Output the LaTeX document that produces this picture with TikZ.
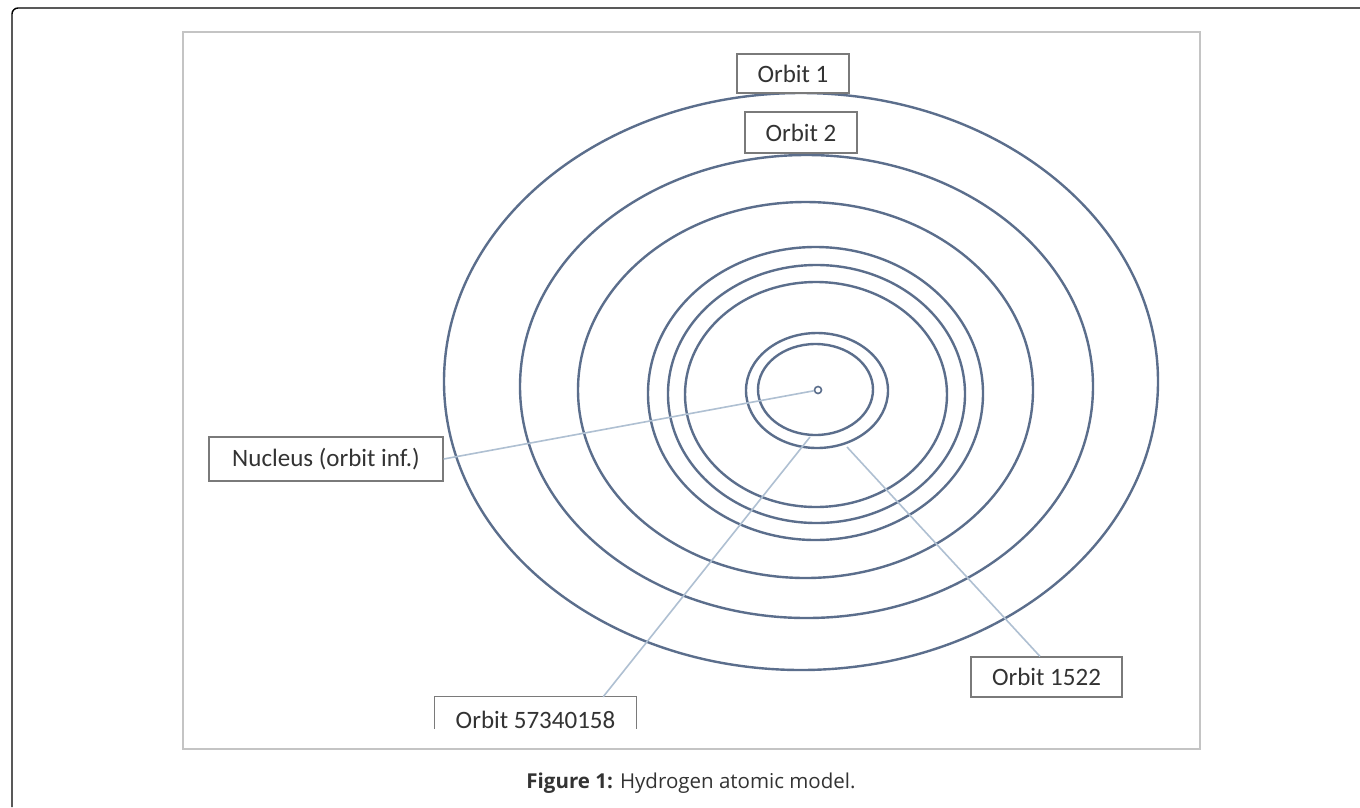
\documentclass[tikz,border=0pt]{standalone}
\usepackage{fontspec}
\setmainfont{Carlito}
\newfontfamily\capfont{Open Sans}
\usetikzlibrary{calc}
\definecolor{orbitcol}{HTML}{5B6E8C}
\definecolor{linkcol}{HTML}{AFC0D2}
\definecolor{boxcol}{HTML}{7A7A7A}
\definecolor{txtcol}{HTML}{333333}
\definecolor{framecol}{HTML}{C4C4C4}
\begin{document}
\begin{tikzpicture}[x=1pt,y=-1pt,
  orbit/.style={draw=orbitcol,line width=2.4pt},
  link/.style={draw=linkcol,line width=1.6pt},
  label/.style={draw=boxcol,line width=1.3pt,fill=white,text=txtcol,font=\fontsize{25}{28}\selectfont,inner sep=0pt},
  openbox/.style={draw=none,text=txtcol,font=\fontsize{25}{28}\selectfont,inner sep=0pt},
  nucleus/.style={circle,draw=orbitcol,line width=1.6pt,minimum size=7pt,inner sep=0pt}]
\useasboundingbox (0,0) rectangle (1360,807);
\fill[white] (0,0) rectangle (1360,807);
% outer page frame
\draw[black,line width=1.4pt,rounded corners=6pt] (12,807) -- (12,8) -- (1360,8);
% figure frame
\draw[framecol,line width=2.6pt] (183,32) rectangle (1200,749);
% orbits
\draw[orbit] (801,381.5) ellipse [x radius=357,y radius=288.5];
\draw[orbit] (806.5,386.5) ellipse [x radius=286.5,y radius=231.5];
\draw[orbit] (805.5,390) ellipse [x radius=227.5,y radius=188];
\draw[orbit] (815.5,393.5) ellipse [x radius=167.5,y radius=146.5];
\draw[orbit] (816.5,394) ellipse [x radius=148.5,y radius=129];
\draw[orbit] (816,394.5) ellipse [x radius=131,y radius=112.5];
\draw[orbit] (817,390.5) ellipse [x radius=71,y radius=57.5];
\draw[orbit] (815.5,389.5) ellipse [x radius=57.5,y radius=45.5];
% nucleus
\node[nucleus] (nuc) at (818,390) {};
% labels
\node[label,minimum width=112pt,minimum height=39pt] (o1) at (793,73.5) {Orbit 1};
\node[label,minimum width=112pt,minimum height=41pt] (o2) at (801,132.5) {Orbit 2};
\node[label,minimum width=234pt,minimum height=44pt] (nb) at (326,459) {Nucleus (orbit inf.)};
\node[label,minimum width=151pt,minimum height=40pt] (b4) at (1046.5,677) {Orbit 1522};
\node[openbox,minimum width=201pt,minimum height=46pt] (b5) at (535.5,720) {Orbit 57340158};
\draw[boxcol,line width=1.3pt] ([yshift=-32pt]b5.north west) -- (b5.north west) -- (b5.north east) -- ([yshift=-32pt]b5.north east);
% connectors
\coordinate (e5) at (810,437);
\coordinate (e4) at (847,447);
\draw[link] (nuc) -- (nb.east);
\draw[link] (e5) -- ($(b5.north west)!0.836!(b5.north east)$);
\draw[link] (e4) -- ($(b4.north west)!0.457!(b4.north east)$);
% caption
\node[text=txtcol,font=\capfont\fontsize{20.5}{23}\selectfont,inner sep=0pt] (cap) at (691,783) {\textbf{Figure 1:} Hydrogen atomic model.};
\end{tikzpicture}
\end{document}
